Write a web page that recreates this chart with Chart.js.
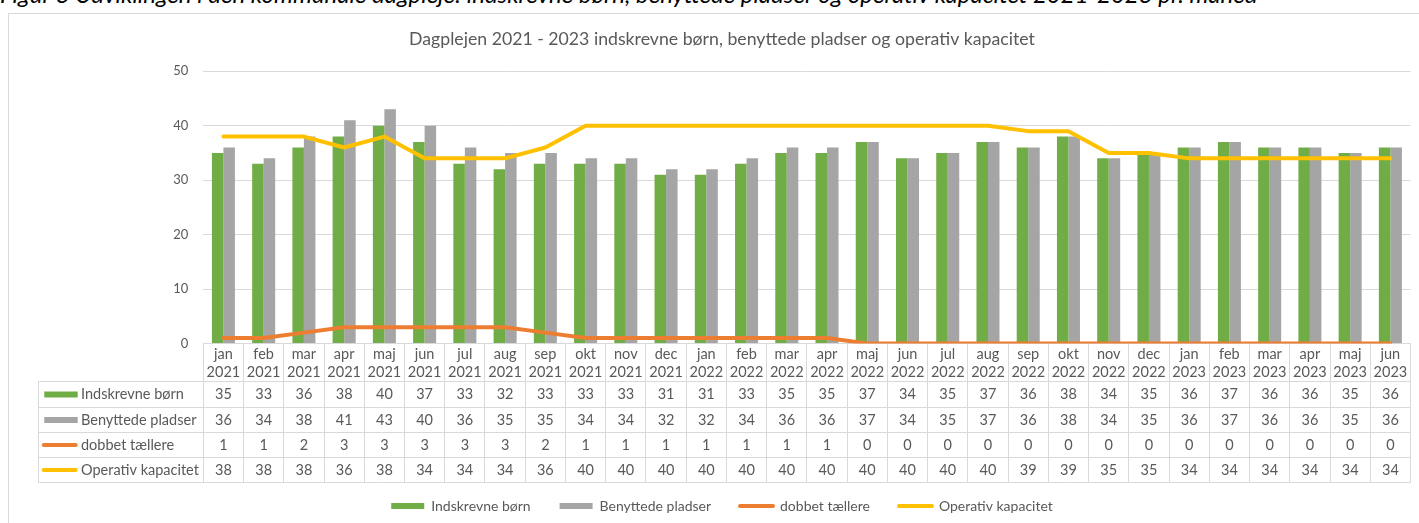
<!DOCTYPE html>
<html><head><meta charset="utf-8">
<script src="https://cdn.jsdelivr.net/npm/chart.js@4.4.0/dist/chart.umd.min.js"></script>
<style>
html,body{margin:0;padding:0;background:#fff;overflow:hidden;width:1419px;height:523px;}
#cap{position:absolute;left:0;top:-18px;font-family:Lato;font-style:italic;font-size:24px;line-height:24px;white-space:nowrap;color:#000;}
#c{position:absolute;left:8px;top:13px;}
</style></head><body>
<div id="cap">Figur 3 Udviklingen i den kommunale dagpleje: indskrevne børn, benyttede pladser og operativ kapacitet 2021-2023 pr. måned</div>
<canvas id="c" width="1430" height="510"></canvas>
<script>
const monthLabels = ['jan','feb','mar','apr','maj','jun','jul','aug','sep','okt','nov','dec',
  'jan','feb','mar','apr','maj','jun','jul','aug','sep','okt','nov','dec',
  'jan','feb','mar','apr','maj','jun'];
const yearLabels = ['2021','2021','2021','2021','2021','2021','2021','2021','2021','2021','2021','2021',
  '2022','2022','2022','2022','2022','2022','2022','2022','2022','2022','2022','2022',
  '2023','2023','2023','2023','2023','2023'];
const seriesNames = ['Indskrevne børn','Benyttede pladser','dobbet tællere','Operativ kapacitet'];
const indskrevne = [35,33,36,38,40,37,33,32,33,33,33,31,31,33,35,35,37,34,35,37,36,38,34,35,36,37,36,36,35,36];
const benyttede  = [36,34,38,41,43,40,36,35,35,34,34,32,32,34,36,36,37,34,35,37,36,38,34,35,36,37,36,36,35,36];
const dobbet     = [1,1,2,3,3,3,3,3,2,1,1,1,1,1,1,1,0,0,0,0,0,0,0,0,0,0,0,0,0,0];
const operativ   = [38,38,38,36,38,34,34,34,36,40,40,40,40,40,40,40,40,40,40,40,39,39,35,35,34,34,34,34,34,34];
const yTicks = [0,10,20,30,40,50];
const chartTitle = 'Dagplejen 2021 - 2023 indskrevne børn, benyttede pladser og operativ kapacitet';

const categories = monthLabels.map((m,i)=>[m, yearLabels[i]]);
const seriesValues = [indskrevne, benyttede, dobbet, operativ];
const colors = ['#70ad47','#a5a5a5','#ed7d31','#ffc000'];
const types = ['bar','bar','line','line'];

const TXT = '#595959';
const GRID = '#d9d9d9';

const tablePlugin = {
  id: 'dataTable',
  beforeDraw(chart){
    const ctx = chart.ctx;
    ctx.save();
    ctx.strokeStyle = GRID; ctx.lineWidth = 1;
    ctx.strokeRect(0.5, 0.5, chart.width + 50, chart.height + 50);
    ctx.restore();
  },
  beforeDatasetsDraw(chart){
    const {ctx, chartArea} = chart;
    const B = Math.round(chartArea.bottom - 0.5) + 0.5;
    const L = chartArea.left, R = chartArea.right;
    const n = categories.length;
    const w = (R - L) / n;
    const rows = [38, 64, 89, 114, 139];
    const keyLeft = 30.5;
    const px = v => Math.floor(v) + 0.5;
    ctx.save();
    ctx.strokeStyle = GRID; ctx.lineWidth = 1;
    ctx.beginPath();
    ctx.moveTo(px(L), B); ctx.lineTo(px(R), B);
    rows.forEach(r => { ctx.moveTo(keyLeft, B + r); ctx.lineTo(px(R), B + r); });
    ctx.moveTo(keyLeft, B + rows[0]); ctx.lineTo(keyLeft, B + rows[rows.length-1]);
    for (let i = 0; i <= n; i++) {
      const xx = px(L + i * w);
      ctx.moveTo(xx, B); ctx.lineTo(xx, B + rows[rows.length-1]);
    }
    ctx.stroke();

    ctx.font = '14.5px Lato';
    ctx.fillStyle = TXT;
    ctx.textAlign = 'center';
    ctx.textBaseline = 'middle';
    for (let i = 0; i < n; i++) {
      const cx = chart.scales.x.getPixelForValue(i);
      ctx.fillText(categories[i][0], cx, B + 10.5);
      ctx.fillText(categories[i][1], cx, B + 29);
      for (let k = 0; k < seriesValues.length; k++) {
        const cy = (rows[k] + rows[k+1]) / 2 + B;
        ctx.fillText(String(seriesValues[k][i]), cx, cy);
      }
    }
    ctx.textAlign = 'left';
    for (let k = 0; k < seriesNames.length; k++) {
      const cy = (rows[k] + rows[k+1]) / 2 + B;
      if (types[k] === 'bar') {
        ctx.fillStyle = colors[k];
        ctx.fillRect(36.3, cy - 3, 33.4, 6);
      } else {
        ctx.strokeStyle = colors[k];
        ctx.lineWidth = 4; ctx.lineCap = 'round';
        ctx.beginPath(); ctx.moveTo(35.7, cy); ctx.lineTo(67.7, cy); ctx.stroke();
      }
      ctx.fillStyle = TXT;
      ctx.fillText(seriesNames[k], 73, cy);
    }
    ctx.restore();
  }
};

Chart.defaults.font.family = 'Lato';
Chart.defaults.color = TXT;

const datasets = seriesNames.map((name, k) => {
  if (types[k] === 'bar') {
    return { type:'bar', label:name, data:seriesValues[k], backgroundColor:colors[k], borderWidth:0,
             barPercentage:1, categoryPercentage:0.572, order:2 };
  }
  return { type:'line', label:name, data:seriesValues[k], borderColor:colors[k], backgroundColor:colors[k],
           borderWidth:4, pointRadius:0, pointHoverRadius:0, tension:0, borderJoinStyle:'round',
           borderCapStyle:'round', order:1 };
});

new Chart(document.getElementById('c'), {
  data: { labels: categories, datasets },
  options: {
    responsive:false, animation:false, devicePixelRatio:1,
    layout:{ padding:{ left:25.5, right:27.5, top:0, bottom:0 } },
    scales:{
      x:{ display:true, ticks:{display:false}, grid:{display:false}, border:{display:false},
          afterFit(s){ s.height = 126.5; } },
      y:{ min:yTicks[0], max:yTicks[yTicks.length-1],
          ticks:{ stepSize:10, padding:15, color:TXT, font:{size:13} },
          grid:{ color:GRID, lineWidth:1, drawTicks:false },
          border:{display:false},
          afterFit(s){ s.width = 169.8; } }
    },
    plugins:{
      tooltip:{enabled:false},
      title:{ display:true, text:chartTitle, color:TXT, font:{size:17.7, weight:'normal'},
              padding:{top:16, bottom:21} },
      legend:{ position:'bottom',
        labels:{ usePointStyle:true, pointStyleWidth:33, boxHeight:6, padding:29, color:TXT,
          font:{size:14},
          sort:(a,b)=>a.datasetIndex-b.datasetIndex,
          generateLabels(chart){
            const items = Chart.defaults.plugins.legend.labels.generateLabels(chart);
            items.forEach(it => {
              const k = it.datasetIndex;
              if (types[k] === 'bar') { it.pointStyle = 'rect'; it.lineWidth = 0; it.fillStyle = colors[k]; }
              else { it.pointStyle = 'line'; it.lineWidth = 4; it.lineCap = 'round'; it.strokeStyle = colors[k]; }
            });
            return items;
          }
        }
      }
    }
  },
  plugins:[tablePlugin]
});
</script>
</body></html>
